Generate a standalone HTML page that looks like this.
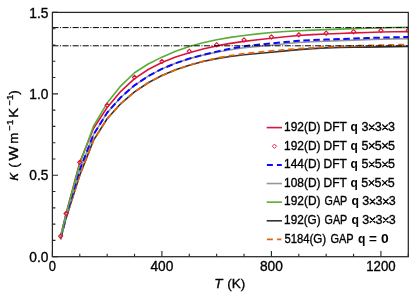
<!DOCTYPE html>
<html><head><meta charset="utf-8"><title>chart</title>
<style>text.n{stroke:#000;stroke-width:0.34px}html,body{margin:0;padding:0;background:#fff}body{width:415px;height:298px;overflow:hidden;position:relative;font-family:"Liberation Sans",sans-serif}</style></head>
<body>
<svg width="415" height="298" viewBox="0 0 415 298" style="position:absolute;left:0;top:0;will-change:transform;font-family:'Liberation Sans',sans-serif">
<rect width="415" height="298" fill="#fff"/>
<defs><clipPath id="c"><rect x="52.4" y="12.4" width="355.90000000000003" height="244.29999999999998"/></clipPath></defs>
<path d="M52.40,256.7v-5.6 M79.78,256.7v-3.0 M107.15,256.7v-3.0 M134.53,256.7v-3.0 M161.91,256.7v-5.6 M189.28,256.7v-3.0 M216.66,256.7v-3.0 M244.04,256.7v-3.0 M271.42,256.7v-5.6 M298.79,256.7v-3.0 M326.17,256.7v-3.0 M353.55,256.7v-3.0 M380.92,256.7v-5.6 M408.30,256.7v-3.0 M52.4,256.70h5.6 M52.4,240.41h3.0 M52.4,224.13h3.0 M52.4,207.84h3.0 M52.4,191.55h3.0 M52.4,175.27h5.6 M52.4,158.98h3.0 M52.4,142.69h3.0 M52.4,126.41h3.0 M52.4,110.12h3.0 M52.4,93.83h5.6 M52.4,77.55h3.0 M52.4,61.26h3.0 M52.4,44.97h3.0 M52.4,28.69h3.0 M52.4,12.40h5.6" stroke="#262626" stroke-width="1.1" fill="none"/>
<g clip-path="url(#c)" fill="none" stroke-linejoin="round">
<path d="M60.61,236.14 L66.09,213.50 L79.78,162.36 L93.47,128.49 L107.15,107.48 L120.84,91.29 L134.53,78.65 L148.22,69.48 L161.91,62.44 L175.60,57.03 L189.28,52.67 L202.97,48.97 L216.66,45.91 L230.35,43.41 L244.04,41.35 L257.73,39.71 L271.42,38.26 L285.10,36.75 L298.79,35.49 L312.48,34.67 L326.17,34.02 L339.86,33.44 L353.55,32.90 L367.23,32.44 L380.92,32.07 L394.61,31.79 L408.30,31.58" stroke="#dc143c" stroke-width="1.6"/>
<path d="M60.61,239.24 L66.09,218.06 L79.78,175.23 L93.47,140.38 L107.15,118.71 L120.84,103.56 L134.53,91.84 L148.22,82.74 L161.91,75.56 L175.60,69.86 L189.28,65.29 L202.97,61.56 L216.66,58.62 L230.35,56.42 L244.04,54.71 L257.73,53.43 L271.42,52.27 L285.10,50.91 L298.79,49.66 L312.48,48.60 L326.17,47.87 L339.86,47.53 L353.55,47.30 L367.23,47.10 L380.92,46.89 L394.61,46.65 L408.30,46.40" stroke="#333333" stroke-width="1.6"/>
<path d="M60.61,239.24 L66.09,218.06 L79.78,175.23 L93.47,140.38 L107.15,118.71 L120.84,103.56 L134.53,91.84 L148.22,82.74 L161.91,75.56 L175.60,69.91 L189.28,65.29 L202.97,61.34 L216.66,58.13 L230.35,55.67 L244.04,53.73 L257.73,52.23 L271.42,50.96 L285.10,49.75 L298.79,48.68 L312.48,47.79 L326.17,47.05 L339.86,46.45 L353.55,45.92 L367.23,45.46 L380.92,45.10 L394.61,44.82 L408.30,44.61" stroke="#e2650f" stroke-width="1.8" stroke-dasharray="6 4"/>
<path d="M60.61,237.77 L66.09,216.11 L79.78,169.69 L93.47,134.68 L107.15,112.69 L120.84,97.25 L134.53,85.33 L148.22,76.11 L161.91,68.88 L175.60,63.15 L189.28,58.62 L202.97,55.12 L216.66,52.27 L230.35,49.73 L244.04,47.70 L257.73,46.36 L271.42,45.18 L285.10,43.73 L298.79,42.49 L312.48,41.76 L326.17,41.19 L339.86,40.64 L353.55,40.12 L367.23,39.65 L380.92,39.24 L394.61,38.88 L408.30,38.58" stroke="#969696" stroke-width="1.6"/>
<path d="M60.61,237.77 L66.09,216.11 L79.78,169.69 L93.47,134.68 L107.15,112.69 L120.84,97.25 L134.53,85.33 L148.22,76.11 L161.91,68.88 L175.60,63.21 L189.28,58.62 L202.97,54.84 L216.66,51.61 L230.35,48.62 L244.04,46.24 L257.73,44.73 L271.42,43.47 L285.10,42.05 L298.79,40.86 L312.48,40.14 L326.17,39.56 L339.86,39.01 L353.55,38.49 L367.23,38.02 L380.92,37.61 L394.61,37.25 L408.30,36.96" stroke="#0a0aff" stroke-width="2" stroke-dasharray="6.5 3.5"/>
<path d="M60.61,236.79 L66.09,214.32 L79.78,163.99 L93.47,126.21 L107.15,103.08 L120.84,85.83 L134.53,72.79 L148.22,63.97 L161.91,57.15 L175.60,51.32 L189.28,46.56 L202.97,42.76 L216.66,39.72 L230.35,37.39 L244.04,35.49 L257.73,33.87 L271.42,32.56 L285.10,31.56 L298.79,30.77 L312.48,30.15 L326.17,29.63 L339.86,29.12 L353.55,28.63 L367.23,28.19 L380.92,27.84 L394.61,27.56 L408.30,27.35" stroke="#58ad38" stroke-width="1.6"/>
<path d="M60.61,234.04l2.1,2.1l-2.1,2.1l-2.1,-2.1z" stroke="#dc143c" stroke-width="1.1" fill="#fff" fill-opacity="0.25"/>
<path d="M66.09,211.40l2.1,2.1l-2.1,2.1l-2.1,-2.1z" stroke="#dc143c" stroke-width="1.1" fill="#fff" fill-opacity="0.25"/>
<path d="M79.78,160.26l2.1,2.1l-2.1,2.1l-2.1,-2.1z" stroke="#dc143c" stroke-width="1.1" fill="#fff" fill-opacity="0.25"/>
<path d="M107.15,103.26l2.1,2.1l-2.1,2.1l-2.1,-2.1z" stroke="#dc143c" stroke-width="1.1" fill="#fff" fill-opacity="0.25"/>
<path d="M134.53,75.25l2.1,2.1l-2.1,2.1l-2.1,-2.1z" stroke="#dc143c" stroke-width="1.1" fill="#fff" fill-opacity="0.25"/>
<path d="M161.91,59.29l2.1,2.1l-2.1,2.1l-2.1,-2.1z" stroke="#dc143c" stroke-width="1.1" fill="#fff" fill-opacity="0.25"/>
<path d="M189.28,49.19l2.1,2.1l-2.1,2.1l-2.1,-2.1z" stroke="#dc143c" stroke-width="1.1" fill="#fff" fill-opacity="0.25"/>
<path d="M216.66,42.67l2.1,2.1l-2.1,2.1l-2.1,-2.1z" stroke="#dc143c" stroke-width="1.1" fill="#fff" fill-opacity="0.25"/>
<path d="M244.04,37.79l2.1,2.1l-2.1,2.1l-2.1,-2.1z" stroke="#dc143c" stroke-width="1.1" fill="#fff" fill-opacity="0.25"/>
<path d="M271.42,34.86l2.1,2.1l-2.1,2.1l-2.1,-2.1z" stroke="#dc143c" stroke-width="1.1" fill="#fff" fill-opacity="0.25"/>
<path d="M298.79,32.74l2.1,2.1l-2.1,2.1l-2.1,-2.1z" stroke="#dc143c" stroke-width="1.1" fill="#fff" fill-opacity="0.25"/>
<path d="M326.17,31.11l2.1,2.1l-2.1,2.1l-2.1,-2.1z" stroke="#dc143c" stroke-width="1.1" fill="#fff" fill-opacity="0.25"/>
<path d="M353.55,29.61l2.1,2.1l-2.1,2.1l-2.1,-2.1z" stroke="#dc143c" stroke-width="1.1" fill="#fff" fill-opacity="0.25"/>
<path d="M380.92,28.50l2.1,2.1l-2.1,2.1l-2.1,-2.1z" stroke="#dc143c" stroke-width="1.1" fill="#fff" fill-opacity="0.25"/>
<path d="M408.30,28.02l2.1,2.1l-2.1,2.1l-2.1,-2.1z" stroke="#dc143c" stroke-width="1.1" fill="#fff" fill-opacity="0.25"/>
<path d="M52.4,45.80H408.3" stroke="#000" stroke-width="1" stroke-dasharray="6.1 1.5 1 1.5"/>
<path d="M52.4,27.60H408.3" stroke="#000" stroke-width="1" stroke-dasharray="6.1 1.5 1 1.5"/>
</g>
<rect x="52.4" y="12.4" width="355.90000000000003" height="244.29999999999998" fill="none" stroke="#262626" stroke-width="1.25"/>
<text x="48.4" y="261.90" font-size="14" text-anchor="end" fill="#000" class="n" textLength="19.1" lengthAdjust="spacingAndGlyphs">0.0</text>
<text x="48.4" y="180.47" font-size="14" text-anchor="end" fill="#000" class="n" textLength="19.1" lengthAdjust="spacingAndGlyphs">0.5</text>
<text x="48.4" y="99.03" font-size="14" text-anchor="end" fill="#000" class="n" textLength="19.1" lengthAdjust="spacingAndGlyphs">1.0</text>
<text x="48.4" y="17.60" font-size="14" text-anchor="end" fill="#000" class="n" textLength="19.1" lengthAdjust="spacingAndGlyphs">1.5</text>
<text x="48.80" y="271.3" font-size="14" fill="#000" class="n" textLength="7.2" lengthAdjust="spacingAndGlyphs">0</text>
<text x="150.46" y="271.3" font-size="14" fill="#000" class="n" textLength="22.9" lengthAdjust="spacingAndGlyphs">400</text>
<text x="259.97" y="271.3" font-size="14" fill="#000" class="n" textLength="22.9" lengthAdjust="spacingAndGlyphs">800</text>
<text x="366.22" y="271.3" font-size="14" fill="#000" class="n" textLength="29.4" lengthAdjust="spacingAndGlyphs">1200</text>
<text x="214.3" y="287.7" font-size="13.5" fill="#000" class="n" font-style="italic">T</text><text x="227.2" y="287.7" font-size="13.5" fill="#000" class="n">(K)</text>
<g transform="translate(18.3,180.7) rotate(-90)" font-size="13.5" fill="#000">
<text x="0.1" y="0" font-size="15" class="n" font-style="italic">κ</text>
<text x="12.9" y="0" font-size="13.5" class="n">(</text>
<text x="20.2" y="0" font-size="13.5" class="n" textLength="14.4" lengthAdjust="spacingAndGlyphs">W</text>
<text x="36.9" y="0" font-size="13.5" class="n" textLength="10.9" lengthAdjust="spacingAndGlyphs">m</text>
<text x="49.9" y="-5" font-size="9.5" class="n" textLength="5.2" lengthAdjust="spacingAndGlyphs">−</text>
<text x="55.8" y="-5" font-size="9.5" class="n">1</text>
<text x="63.0" y="0" font-size="13.5" class="n" textLength="9.8" lengthAdjust="spacingAndGlyphs">K</text>
<text x="75.2" y="-5" font-size="9.5" class="n" textLength="5.2" lengthAdjust="spacingAndGlyphs">−</text>
<text x="80.7" y="-5" font-size="9.5" class="n">1</text>
<text x="85.9" y="0" font-size="13.5" class="n">)</text>
</g>
<path d="M266.7,127.60H282" stroke="#dc143c" stroke-width="1.6"/>
<text x="284.1" y="131.20" font-size="12" fill="#000" textLength="36.4" lengthAdjust="spacingAndGlyphs" class="n">192(D)</text>
<text x="323.6" y="131.20" font-size="12" fill="#000" textLength="23.3" lengthAdjust="spacingAndGlyphs" class="n">DFT</text>
<text x="350.4" y="131.20" font-size="12" fill="#000" textLength="7.3" lengthAdjust="spacingAndGlyphs" font-weight="bold">q</text>
<text x="361.60 374.85 388.10" y="131.20" font-size="12.5" fill="#000" class="n">333</text>
<path d="M369.00,124.50L374.50,130.00M369.00,130.00L374.50,124.50 M382.30,124.50L387.80,130.00M382.30,130.00L387.80,124.50" stroke="#000" stroke-width="1.25" fill="none"/>
<path d="M274.40,144.14l2.1,2.1l-2.1,2.1l-2.1,-2.1z" stroke="#dc143c" stroke-width="0.9" fill="none"/>
<text x="284.1" y="149.75" font-size="12" fill="#000" textLength="36.4" lengthAdjust="spacingAndGlyphs" class="n">192(D)</text>
<text x="323.6" y="149.75" font-size="12" fill="#000" textLength="23.3" lengthAdjust="spacingAndGlyphs" class="n">DFT</text>
<text x="350.4" y="149.75" font-size="12" fill="#000" textLength="7.3" lengthAdjust="spacingAndGlyphs" font-weight="bold">q</text>
<text x="361.60 374.85 388.10" y="149.75" font-size="12.5" fill="#000" class="n">555</text>
<path d="M369.00,143.05L374.50,148.55M369.00,148.55L374.50,143.05 M382.30,143.05L387.80,148.55M382.30,148.55L387.80,143.05" stroke="#000" stroke-width="1.25" fill="none"/>
<path d="M266.9,164.88H281.8" stroke="#0a0aff" stroke-width="2" stroke-dasharray="6 4"/>
<text x="284.1" y="168.30" font-size="12" fill="#000" textLength="36.4" lengthAdjust="spacingAndGlyphs" class="n">144(D)</text>
<text x="323.6" y="168.30" font-size="12" fill="#000" textLength="23.3" lengthAdjust="spacingAndGlyphs" class="n">DFT</text>
<text x="350.4" y="168.30" font-size="12" fill="#000" textLength="7.3" lengthAdjust="spacingAndGlyphs" font-weight="bold">q</text>
<text x="361.60 374.85 388.10" y="168.30" font-size="12.5" fill="#000" class="n">555</text>
<path d="M369.00,161.60L374.50,167.10M369.00,167.10L374.50,161.60 M382.30,161.60L387.80,167.10M382.30,167.10L387.80,161.60" stroke="#000" stroke-width="1.25" fill="none"/>
<path d="M266.7,183.52H282" stroke="#969696" stroke-width="1.6"/>
<text x="284.1" y="186.85" font-size="12" fill="#000" textLength="36.4" lengthAdjust="spacingAndGlyphs" class="n">108(D)</text>
<text x="323.6" y="186.85" font-size="12" fill="#000" textLength="23.3" lengthAdjust="spacingAndGlyphs" class="n">DFT</text>
<text x="350.4" y="186.85" font-size="12" fill="#000" textLength="7.3" lengthAdjust="spacingAndGlyphs" font-weight="bold">q</text>
<text x="361.35 374.60 387.85" y="186.85" font-size="12.5" fill="#000" class="n">555</text>
<path d="M368.75,180.15L374.25,185.65M368.75,185.65L374.25,180.15 M382.05,180.15L387.55,185.65M382.05,185.65L387.55,180.15" stroke="#000" stroke-width="1.25" fill="none"/>
<path d="M266.7,202.16H282" stroke="#58ad38" stroke-width="1.6"/>
<text x="284.1" y="205.40" font-size="12" fill="#000" textLength="36.4" lengthAdjust="spacingAndGlyphs" class="n">192(D)</text>
<text x="324.6" y="205.40" font-size="12" fill="#000" textLength="22.7" lengthAdjust="spacingAndGlyphs" class="n">GAP</text>
<text x="351.4" y="205.40" font-size="12" fill="#000" textLength="7.5" lengthAdjust="spacingAndGlyphs" font-weight="bold">q</text>
<text x="362.35 375.60 388.85" y="205.40" font-size="12.5" fill="#000" class="n">333</text>
<path d="M369.75,198.70L375.25,204.20M369.75,204.20L375.25,198.70 M383.05,198.70L388.55,204.20M383.05,204.20L388.55,198.70" stroke="#000" stroke-width="1.25" fill="none"/>
<path d="M266.7,220.80H282" stroke="#333333" stroke-width="1.6"/>
<text x="284.1" y="223.95" font-size="12" fill="#000" textLength="36.6" lengthAdjust="spacingAndGlyphs" class="n">192(G)</text>
<text x="324.6" y="223.95" font-size="12" fill="#000" textLength="22.7" lengthAdjust="spacingAndGlyphs" class="n">GAP</text>
<text x="351.4" y="223.95" font-size="12" fill="#000" textLength="7.5" lengthAdjust="spacingAndGlyphs" font-weight="bold">q</text>
<text x="362.35 375.60 388.85" y="223.95" font-size="12.5" fill="#000" class="n">333</text>
<path d="M369.75,217.25L375.25,222.75M369.75,222.75L375.25,217.25 M383.05,217.25L388.55,222.75M383.05,222.75L388.55,217.25" stroke="#000" stroke-width="1.25" fill="none"/>
<path d="M266.9,239.44H281.4" stroke="#e2650f" stroke-width="1.8" stroke-dasharray="6 4.2"/>
<text x="284.4" y="242.50" font-size="12" fill="#000" textLength="25.0" lengthAdjust="spacingAndGlyphs" class="n">5184</text>
<text x="309.4" y="242.50" font-size="12" fill="#000" textLength="16.8" lengthAdjust="spacingAndGlyphs" class="n">(G)</text>
<text x="330.4" y="242.50" font-size="12" fill="#000" textLength="23.2" lengthAdjust="spacingAndGlyphs" class="n">GAP</text>
<text x="358.1" y="242.50" font-size="12" fill="#000" textLength="7.4" lengthAdjust="spacingAndGlyphs" font-weight="bold">q</text>
<text x="368.9" y="242.50" font-size="12" fill="#000" textLength="7.9" lengthAdjust="spacingAndGlyphs" font-weight="bold">=</text>
<text x="381.0" y="242.50" font-size="12" fill="#000" textLength="7.7" lengthAdjust="spacingAndGlyphs" font-weight="bold">0</text>
</svg>
</body></html>
